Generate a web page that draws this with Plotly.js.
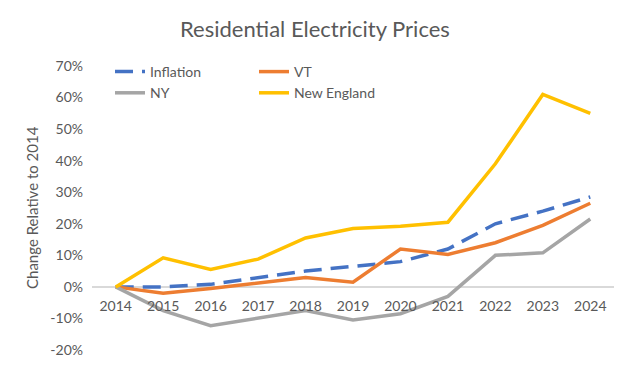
<!DOCTYPE html>
<html>
<head>
<meta charset="utf-8">
<script src="https://cdn.plot.ly/plotly-3.0.1.min.js"></script>
<style>html,body{margin:0;padding:0;background:#fff}#chart{width:620px;height:372px}</style>
</head>
<body>
<div id="chart"></div>
<script>
const years = ["2014","2015","2016","2017","2018","2019","2020","2021","2022","2023","2024"];
const inflation = [0, 0, 0.8, 2.8, 5, 6.5, 8, 12, 20, 24, 28.5];
const vt = [0, -2, -0.5, 1.2, 3, 1.5, 12, 10.3, 14, 19.5, 26.5];
const ny = [0, -7.5, -12.3, -10, -7.5, -10.5, -8.5, -3, 10, 10.8, 21.5];
const newEngland = [0, 9.2, 5.5, 8.8, 15.5, 18.5, 19.2, 20.5, 39, 61, 55];
const yTicks = [-20, -10, 0, 10, 20, 30, 40, 50, 60, 70];
const yTitle = "Change Relative to 2014";

const font = "Lato, 'Open Sans', sans-serif";
const traces = [
  {x: years, y: inflation, name: "Inflation", mode: "lines", legend: "legend",
   line: {color: "#4472C4", width: 3.5, dash: "18px,9px"}},
  {x: years, y: vt, name: "VT", mode: "lines", legend: "legend2",
   line: {color: "#ED7D31", width: 3.5}},
  {x: years, y: ny, name: "NY", mode: "lines", legend: "legend",
   line: {color: "#A5A5A5", width: 3.5}},
  {x: years, y: newEngland, name: "New England", mode: "lines", legend: "legend2",
   line: {color: "#FFC000", width: 3.5}}
];
const legendBase = {xref: "container", yref: "container", yanchor: "top", xanchor: "left",
  bgcolor: "rgba(0,0,0,0)", font: {family: font, size: 14, color: "#595959"},
  tracegroupgap: 0};
const layout = {
  width: 620, height: 372,
  margin: {l: 92, r: 6, t: 66, b: 22, autoexpand: false},
  paper_bgcolor: "#fff", plot_bgcolor: "#fff",
  font: {family: font, color: "#595959"},
  title: {text: "Residential Electricity Prices", x: 0.508, xanchor: "center", y: 0.92, yanchor: "middle",
    font: {family: font, size: 22, color: "#595959"}},
  xaxis: {type: "category", range: [-0.5, 10.5], showgrid: false, zeroline: false, automargin: false,
    showline: false, ticks: "", tickfont: {size: 14, color: "#595959"}, tickangle: 0,
    ticklabelposition: "outside", ticklabelstandoff: -54},
  yaxis: {range: [-20, 70], tickvals: yTicks, ticktext: yTicks.map(v => v + "%"), automargin: false,
    showgrid: false, zeroline: true, zerolinecolor: "#D9D9D9", zerolinewidth: 1.5,
    ticks: "", tickfont: {size: 14, color: "#595959"}, ticklabelstandoff: 8},
  annotations: [{text: yTitle, textangle: -90, xref: "paper", x: -60/522, xanchor: "center",
    yref: "paper", y: 0.5, yanchor: "middle", showarrow: false,
    font: {family: font, size: 15, color: "#595959"}}],
  showlegend: true,
  legend: Object.assign({}, legendBase, {x: 110/620, y: 1 - 56/372}),
  legend2: Object.assign({}, legendBase, {x: 254/620, y: 1 - 56/372})
};
Plotly.newPlot("chart", traces, layout, {displayModeBar: false, staticPlot: true});
</script>
</body>
</html>
